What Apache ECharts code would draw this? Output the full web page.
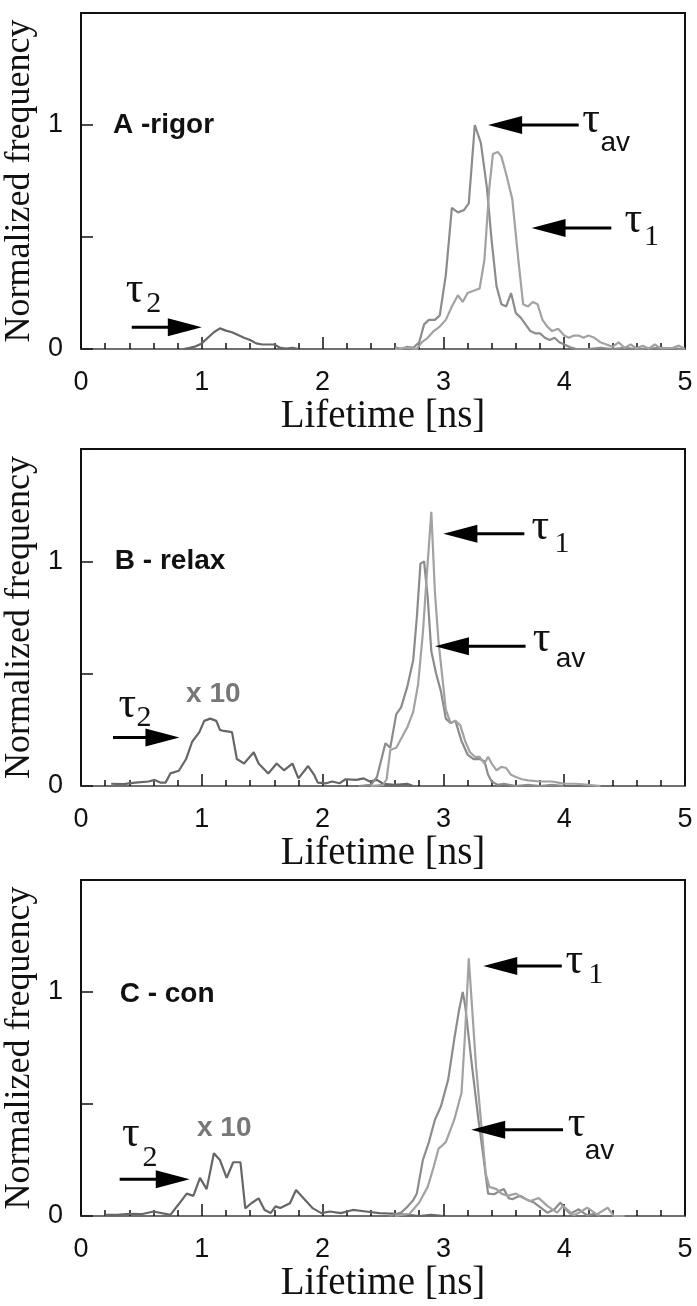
<!DOCTYPE html>
<html>
<head>
<meta charset="utf-8">
<script src="https://cdn.jsdelivr.net/npm/echarts@6/dist/echarts.min.js"></script>
<style>
html,body{margin:0;padding:0;background:#fff;}
#chart{width:697px;height:1306px;}
</style>
</head>
<body>
<div id="chart"></div>
<script>
// axis ticks
var xTickValues = [0, 1, 2, 3, 4, 5];
var yTickLabels = [0, 1];
var panelNames = ['A -rigor', 'B - relax', 'C - con'];

// lifetime histograms: [lifetime ns, normalized frequency]
var rigorTau2 = [[0.85,0],[0.9,0.005],[0.95,0.012],[1.0,0.025],[1.05,0.05],[1.1,0.075],[1.15,0.092],[1.2,0.082],[1.25,0.075],[1.3,0.062],[1.35,0.05],[1.4,0.04],[1.45,0.025],[1.5,0.02],[1.55,0.02],[1.6,0.02],[1.65,0.005],[1.7,0.002],[1.75,0.005],[1.8,0]];
var rigorTauAv = [[2.6,0.008],[2.65,0],[2.7,0.01],[2.75,0.005],[2.8,0.03],[2.84,0.11],[2.88,0.13],[2.93,0.13],[2.97,0.15],[3.02,0.33],[3.07,0.63],[3.12,0.61],[3.17,0.62],[3.21,0.65],[3.26,1.0],[3.31,0.92],[3.36,0.72],[3.4,0.48],[3.44,0.28],[3.48,0.2],[3.52,0.19],[3.56,0.25],[3.6,0.16],[3.64,0.14],[3.68,0.11],[3.72,0.08],[3.76,0.07],[3.8,0.07],[3.84,0.05],[3.88,0.04],[3.92,0.05],[3.96,0.03],[4.0,0.02],[4.05,0.008],[4.1,0],[4.2,0],[4.3,0.005],[4.4,0],[4.5,0.005],[4.6,0],[4.8,0.005],[5.0,0]];
var rigorTau1 = [[2.6,0],[2.7,0.005],[2.78,0],[2.82,0.03],[2.87,0.05],[2.92,0.08],[2.97,0.1],[3.02,0.13],[3.07,0.19],[3.12,0.24],[3.16,0.21],[3.2,0.25],[3.25,0.26],[3.3,0.27],[3.34,0.4],[3.38,0.72],[3.41,0.87],[3.45,0.88],[3.48,0.86],[3.52,0.78],[3.57,0.67],[3.62,0.4],[3.66,0.2],[3.7,0.19],[3.74,0.21],[3.78,0.2],[3.82,0.13],[3.86,0.1],[3.9,0.08],[3.95,0.09],[4.0,0.06],[4.04,0.05],[4.08,0.06],[4.12,0.06],[4.16,0.05],[4.2,0.06],[4.25,0.05],[4.3,0.03],[4.35,0.02],[4.4,0.01],[4.45,0.03],[4.5,0.005],[4.55,0.02],[4.6,0.003],[4.65,0.015],[4.7,0.002],[4.75,0.02],[4.8,0.003],[4.9,0.005],[4.95,0.015],[5.0,0]];

var relaxTau2 = [[0.25,0.01],[0.35,0.008],[0.45,0.015],[0.56,0.02],[0.61,0.027],[0.66,0.015],[0.7,0.015],[0.74,0.056],[0.81,0.068],[0.87,0.12],[0.92,0.197],[0.98,0.24],[1.02,0.29],[1.07,0.3],[1.12,0.29],[1.15,0.25],[1.18,0.245],[1.25,0.24],[1.29,0.12],[1.35,0.1],[1.43,0.15],[1.47,0.1],[1.55,0.056],[1.62,0.1],[1.68,0.07],[1.75,0.1],[1.8,0.034],[1.88,0.089],[1.93,0.05],[1.96,0.015],[2.03,0.012],[2.08,0.02],[2.14,0.012],[2.19,0.03],[2.28,0.027],[2.34,0.034],[2.39,0.02],[2.45,0.027],[2.5,0.01],[2.6,0.005],[2.7,0.01],[2.75,0]];
var relaxTauAv = [[2.3,0],[2.4,0.005],[2.45,0.04],[2.52,0.19],[2.56,0.17],[2.61,0.32],[2.65,0.35],[2.7,0.44],[2.75,0.56],[2.78,0.75],[2.81,0.99],[2.84,1.0],[2.87,0.84],[2.9,0.6],[2.94,0.5],[2.98,0.42],[3.02,0.3],[3.06,0.28],[3.1,0.29],[3.15,0.2],[3.2,0.14],[3.25,0.12],[3.3,0.12],[3.34,0.11],[3.37,0.05],[3.4,0.02],[3.45,0.005],[3.5,0.01],[3.6,0],[3.7,0.005],[3.8,0],[3.9,0.005],[4.0,0]];
var relaxTau1 = [[2.4,0],[2.5,0.005],[2.53,0.03],[2.56,0.16],[2.61,0.17],[2.66,0.22],[2.7,0.26],[2.75,0.33],[2.79,0.45],[2.83,0.68],[2.86,0.92],[2.9,1.22],[2.93,0.86],[2.96,0.64],[2.99,0.49],[3.02,0.34],[3.06,0.28],[3.1,0.29],[3.14,0.27],[3.18,0.2],[3.22,0.15],[3.26,0.13],[3.3,0.13],[3.34,0.1],[3.37,0.13],[3.4,0.1],[3.44,0.07],[3.48,0.085],[3.52,0.08],[3.56,0.05],[3.6,0.04],[3.65,0.03],[3.7,0.025],[3.8,0.02],[3.9,0.02],[3.95,0.015],[4.0,0.01],[4.1,0.01],[4.2,0.005],[4.3,0]];

var conTau2 = [[0.2,0.005],[0.3,0.005],[0.4,0.01],[0.5,0.008],[0.6,0.02],[0.74,0.005],[0.805,0.05],[0.875,0.1],[0.93,0.09],[0.985,0.17],[1.04,0.12],[1.1,0.28],[1.15,0.25],[1.206,0.17],[1.26,0.24],[1.32,0.24],[1.36,0.034],[1.41,0.057],[1.47,0.079],[1.52,0.027],[1.57,0.013],[1.61,0.043],[1.65,0.036],[1.73,0.057],[1.78,0.116],[1.84,0.08],[1.92,0.034],[1.99,0.013],[2.06,0.02],[2.15,0.013],[2.25,0.027],[2.36,0.02],[2.47,0.013],[2.6,0.01],[2.7,0.005],[2.8,0],[2.9,0.005],[3.0,0]];
var conTauAv = [[2.55,0],[2.65,0.015],[2.7,0.04],[2.75,0.07],[2.78,0.1],[2.83,0.25],[2.88,0.33],[2.93,0.43],[2.98,0.49],[3.04,0.61],[3.09,0.79],[3.13,0.92],[3.16,1.0],[3.18,0.94],[3.23,0.7],[3.29,0.43],[3.33,0.27],[3.37,0.1],[3.42,0.097],[3.46,0.11],[3.5,0.12],[3.54,0.08],[3.57,0.075],[3.61,0.085],[3.64,0.09],[3.7,0.07],[3.75,0.06],[3.8,0.04],[3.86,0.015],[3.92,0.03],[3.97,0.06],[4.01,0.03],[4.05,0.01],[4.12,0.03],[4.19,0.003],[4.25,0.01],[4.3,0]];
var conTau1 = [[2.6,0],[2.72,0.01],[2.8,0.06],[2.87,0.13],[2.92,0.22],[2.96,0.3],[3.02,0.33],[3.09,0.43],[3.15,0.55],[3.18,0.82],[3.21,1.15],[3.24,0.91],[3.27,0.67],[3.31,0.43],[3.35,0.19],[3.38,0.13],[3.44,0.12],[3.48,0.1],[3.53,0.09],[3.6,0.1],[3.66,0.08],[3.72,0.067],[3.79,0.08],[3.86,0.045],[3.94,0.015],[3.99,0.045],[4.08,0.003],[4.14,0.02],[4.19,0.037],[4.27,0.007],[4.36,0.037],[4.41,0],[4.5,0]];

var panelSeries = [
    [rigorTau2, rigorTauAv, rigorTau1],
    [relaxTau2, relaxTauAv, relaxTau1],
    [conTau2, conTauAv, conTau1]
];
var seriesColors = ['#666666', '#8c8c8c', '#a2a2a2'];

// annotations, in data units of each panel
var arrows = [
    [{tail:4.12, tip:3.37, y:1.0}, {tail:4.39, tip:3.73, y:0.54}, {tail:0.42, tip:1.0, y:0.097}],
    [{tail:3.67, tip:3.0, y:1.123}, {tail:3.68, tip:2.93, y:0.622}, {tail:0.265, tip:0.815, y:0.216}],
    [{tail:3.98, tip:3.33, y:1.116}, {tail:3.99, tip:3.23, y:0.385}, {tail:0.32, tip:0.9, y:0.164}]
];
var tauLabels = [
    [{x:4.15, y:1.0, sub:'av', sx:4.30, sy:0.92}, {x:4.5, y:0.553, sub:'1', sx:4.66, sy:0.50}, {x:0.37, y:0.24, sub:'2', sx:0.54, sy:0.2}],
    [{x:3.73, y:1.127, sub:'1', sx:3.92, sy:1.075}, {x:3.74, y:0.63, sub:'av', sx:3.93, sy:0.563}, {x:0.31, y:0.338, sub:'2', sx:0.46, sy:0.3}],
    [{x:4.01, y:1.116, sub:'1', sx:4.2, sy:1.075}, {x:4.03, y:0.385, sub:'av', sx:4.17, sy:0.29}, {x:0.34, y:0.34, sub:'2', sx:0.51, sy:0.26}]
];
var panelNamePos = [[0.265, 1.0], [0.28, 1.0], [0.32, 0.99]];
var timesTenPos = [null, [0.87, 0.41], [0.96, 0.39]];

var gridTops = [13, 449, 880];
var gridHeights = [336, 337, 336];

var chart = echarts.init(document.getElementById('chart'));

var grid = [], xAxis = [], yAxis = [], series = [];
for (var i = 0; i < 3; i++) {
    grid.push({left: 81, right: 12, top: gridTops[i], height: gridHeights[i],
        outerBoundsMode: 'none', containLabel: false,
        show: true, borderColor: '#111', borderWidth: 2, backgroundColor: 'transparent'});
    xAxis.push({
        gridIndex: i, type: 'value', min: 0, max: 5, interval: 1,
        axisLine: {show: true, onZero: false, lineStyle: {color: '#707070', width: 2}},
        axisTick: {show: true, inside: true, length: 12, lineStyle: {color: '#111', width: 1.5}},
        minorTick: {show: true, splitNumber: 5, length: 6, lineStyle: {color: '#111', width: 1.5}},
        splitLine: {show: false},
        axisLabel: {margin: 20, fontSize: 27, color: '#111', fontFamily: 'Liberation Sans',
            formatter: function (v) { return xTickValues.indexOf(v) >= 0 ? String(v) : ''; }},
        name: 'Lifetime [ns]', nameLocation: 'middle', nameGap: 44,
        nameTextStyle: {fontFamily: 'Liberation Serif', fontSize: 39, color: '#111'}
    });
    yAxis.push({
        gridIndex: i, type: 'value', min: 0, max: 1.5, interval: 0.5,
        axisLine: {show: true, lineStyle: {color: '#111', width: 2}},
        axisTick: {show: true, inside: true, length: 12, lineStyle: {color: '#111', width: 1.5}},
        splitLine: {show: false},
        axisLabel: {margin: 18, fontSize: 27, color: '#111', fontFamily: 'Liberation Sans',
            formatter: function (v) { return yTickLabels.indexOf(v) >= 0 ? String(v) : ''; }},
        name: 'Normalized frequency', nameLocation: 'middle', nameGap: 28,
        nameTextStyle: {fontFamily: 'Liberation Serif', fontSize: 36, color: '#111'}
    });
    for (var k = 0; k < 3; k++) {
        series.push({
            type: 'line', xAxisIndex: i, yAxisIndex: i,
            data: panelSeries[i][k], showSymbol: false, smooth: false, z: 3,
            lineStyle: {color: seriesColors[k], width: 2.2}
        });
    }
}

chart.setOption({
    animation: false,
    backgroundColor: '#fff',
    grid: grid, xAxis: xAxis, yAxis: yAxis, series: series
});

function px(i, x, y) {
    return chart.convertToPixel({gridIndex: i}, [x, y]);
}

function arrowEls(i, a) {
    var p0 = px(i, a.tail, a.y), p1 = px(i, a.tip, a.y);
    var dx = p1[0] - p0[0], dy = p1[1] - p0[1];
    var len = Math.sqrt(dx * dx + dy * dy), ux = dx / len, uy = dy / len;
    var hl = 34, hw = 9;
    var bx = p1[0] - ux * hl, by = p1[1] - uy * hl;
    return [
        {type: 'line', z: 10, shape: {x1: p0[0], y1: p0[1], x2: bx + ux * 2, y2: by + uy * 2},
            style: {stroke: '#000', lineWidth: 3}},
        {type: 'polygon', z: 10, shape: {points: [[p1[0], p1[1]], [bx - uy * hw, by + ux * hw], [bx + uy * hw, by - ux * hw]]},
            style: {fill: '#000'}}
    ];
}

function textEl(p, text, font, size, weight, color, dy) {
    return {type: 'text', z: 10, x: p[0], y: p[1] + (dy || 0),
        style: {text: text, fontFamily: font, fontSize: size, fontWeight: weight, fill: color,
            align: 'left', verticalAlign: 'middle'}};
}

var els = [];
for (var i = 0; i < 3; i++) {
    arrows[i].forEach(function (a) { els = els.concat(arrowEls(i, a)); });
    tauLabels[i].forEach(function (t) {
        els.push(textEl(px(i, t.x, t.y), '\u03c4', 'Liberation Serif', 44, 'normal', '#111', -5));
        if (t.sub === 'av') {
            els.push(textEl(px(i, t.sx, t.sy), t.sub, 'Liberation Sans', 28, 'normal', '#111', 0));
        } else {
            els.push(textEl(px(i, t.sx, t.sy), t.sub, 'Liberation Serif', 30, 'normal', '#111', 0));
        }
    });
    els.push(textEl(px(i, panelNamePos[i][0], panelNamePos[i][1]), panelNames[i], 'Liberation Sans', 28, 'bold', '#111', 0));
    if (timesTenPos[i]) {
        els.push(textEl(px(i, timesTenPos[i][0], timesTenPos[i][1]), 'x 10', 'Liberation Sans', 28, 'bold', '#777', 0));
    }
}
chart.setOption({graphic: els});
</script>
</body>
</html>
